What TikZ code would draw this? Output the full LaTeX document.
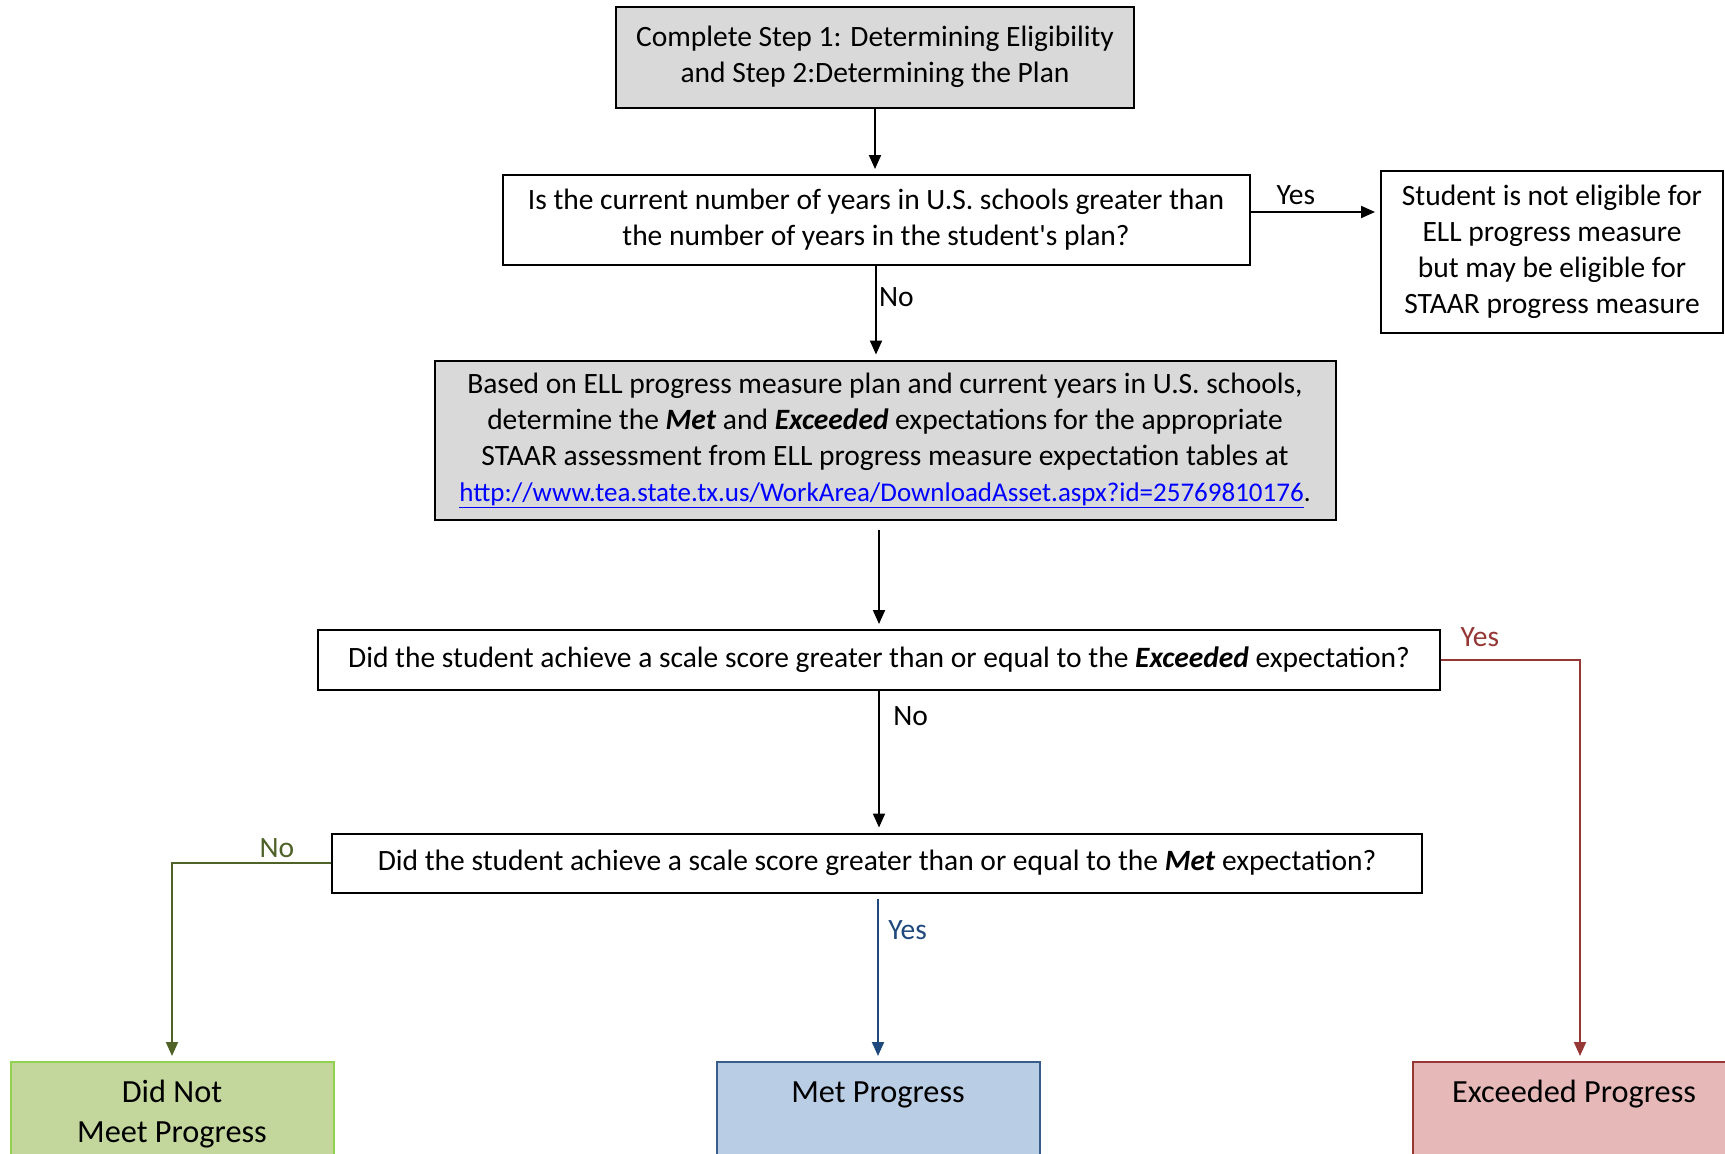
\documentclass[tikz,border=0pt]{standalone}
\usepackage{fontspec}
\setmainfont{Carlito}
\usepackage{xcolor}
\usepackage{tikz}
\usetikzlibrary{arrows.meta,positioning,calc}
\definecolor{boxgray}{HTML}{D9D9D9}
\definecolor{linkblue}{HTML}{0000FF}
\definecolor{nogreen}{HTML}{4F6228}
\definecolor{yesblue}{HTML}{1F497D}
\definecolor{yesred}{HTML}{953735}
\definecolor{dnmfill}{HTML}{C3D69B}
\definecolor{dnmline}{HTML}{92D050}
\definecolor{metfill}{HTML}{B9CDE5}
\definecolor{metline}{HTML}{385D8A}
\definecolor{excfill}{HTML}{E6B9B8}
\definecolor{excline}{HTML}{953735}

\begin{document}
\begin{tikzpicture}[x=1pt,y=-1pt,
  every node/.style={font=\fontsize{29.5}{36}\selectfont},
  box/.style={draw,line width=2pt,align=center,inner sep=0pt},
  outbox/.style={draw,line width=2pt,align=center,anchor=north,inner xsep=0pt,minimum width=323pt,
    font=\fontsize{32.3}{40}\selectfont},
  flow/.style={line width=2pt,-{Triangle[length=14pt,width=12pt]},shorten >=5pt},
  lbl/.style={inner sep=2pt}]
  \useasboundingbox (0,0) rectangle (1725,1154);
  % steps and questions
  \node[box,fill=boxgray,minimum width=518pt,minimum height=101pt] (step) at (875,57)
    {Complete Step 1: Determining Eligibility\\and Step 2:Determining the Plan};
  \node[box,minimum width=747pt,minimum height=90pt] (years) at (876,220)
    {Is the current number of years in U.S. schools greater than\\the number of years in the student\textquotesingle s plan?};
  \node[box,minimum width=342pt,minimum height=162pt] (noteligible) at (1552,252)
    {Student is not eligible for\\ELL progress measure\\but may be eligible for\\STAAR progress measure};
  \node[box,fill=boxgray,minimum width=901pt,minimum height=159pt] (expect) at (885,440)
    {Based on ELL progress measure plan and current years in U.S. schools,\\
     determine the \textbf{\textit{Met}} and \textbf{\textit{Exceeded}} expectations for the appropriate\\
     STAAR assessment from ELL progress measure expectation tables at\\
     {\fontsize{27}{36}\selectfont\textcolor{linkblue}{\underline{http://www.tea.state.tx.us/WorkArea/DownloadAsset.aspx?id=25769810176}}.}};
  \node[box,minimum width=1122pt,minimum height=60pt] (exceeded) at (879,660)
    {Did the student achieve a scale score greater than or equal to the \textbf{\textit{Exceeded}} expectation?};
  \node[box,minimum width=1090pt,minimum height=59pt] (met) at (877,863)
    {Did the student achieve a scale score greater than or equal to the \textbf{\textit{Met}} expectation?};
  % outcomes
  \node[outbox,fill=dnmfill,draw=dnmline,minimum height=104pt] (didnotmeet) at (172,1061) {Did Not\\Meet Progress};
  \node[outbox,fill=metfill,draw=metline,inner ysep=18pt,text height=22pt,text depth=80pt] (metprog) at (878,1061) {Met Progress};
  \node[outbox,fill=excfill,draw=excline,inner ysep=18pt,text height=22pt,text depth=80pt] (excprog) at (1574,1061) {Exceeded Progress};
  % connectors
  \draw[flow] (step.south) -- (step.south |- years.north);
  \draw[flow] ([yshift=8pt]years.east) -- ([yshift=8pt]years.east -| noteligible.west)
    node[pos=0.35,above,lbl,yshift=4pt] {Yes};
  \draw[flow] (years.south) -- (years.south |- expect.north) node[pos=0.33,right,lbl] {No};
  \draw[flow,shorten <=9pt] (exceeded.north |- expect.south) -- (exceeded.north);
  \draw[flow] (exceeded.south) -- (exceeded.south |- met.north) node[pos=0.18,right,xshift=10pt] {No};
  \draw[flow,yesblue,shorten <=5pt] (met.south -| metprog.north) -- (metprog.north)
    node[pos=0.22,right,xshift=6pt] {Yes};
  \draw[flow,yesred] (exceeded.east) -| ([xshift=6pt]excprog.north) node[pos=0.14,above,lbl,yshift=10pt] {Yes};
  \draw[flow,nogreen] (met.west) -| (didnotmeet.north) node[pos=0.17,above,lbl,yshift=2pt] {No};
\end{tikzpicture}
\end{document}
